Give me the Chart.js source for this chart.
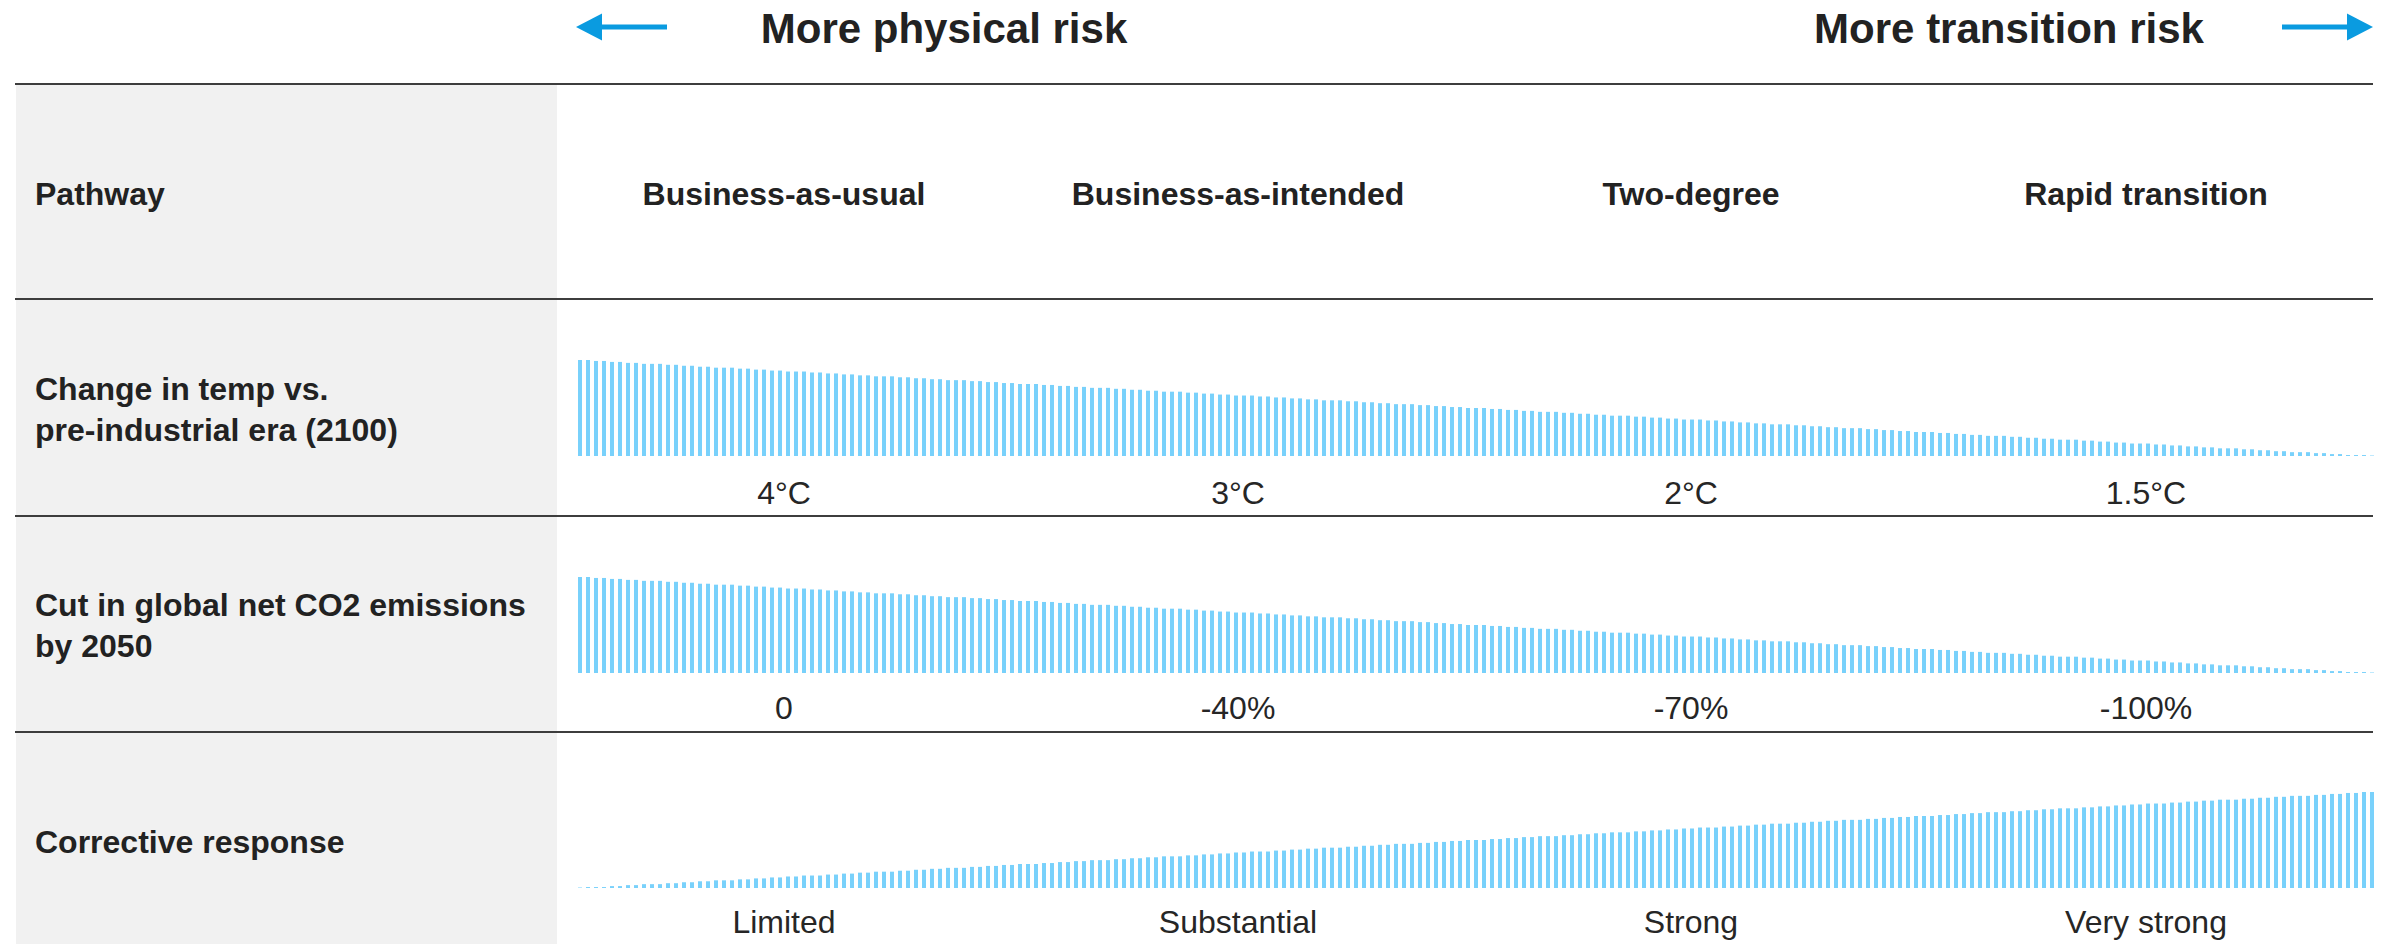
<!DOCTYPE html>
<html lang="en">
<head>
    <meta charset="UTF-8">
    <title>Climate pathways</title>
    <script src="https://cdn.jsdelivr.net/npm/chart.js"></script>
    <style>
        html, body { margin: 0; padding: 0; background: #fff; }
        body { width: 2395px; height: 944px; position: relative; overflow: hidden;
               font-family: "Liberation Sans", Arial, sans-serif; color: #222; }
        .abs { position: absolute; white-space: nowrap; }
        .mid { transform: translate(-50%, -50%); }
        .left { transform: translateY(-50%); }
        .big { font-size: 42px; font-weight: bold; line-height: 42px; }
        .head { font-size: 32px; font-weight: bold; line-height: 41px; }
        .val { font-size: 32px; line-height: 32px; color: #262626; }
        .rule { position: absolute; left: 15px; width: 2358px; height: 2px; background: #3d3d3d; }
        #panel { position: absolute; left: 16px; top: 85px; width: 541px; height: 859px; background: #f1f1f1; }
        canvas.row { position: absolute; left: 576px; }
    </style>
</head>
<body>
    <div id="panel"></div>

    <svg class="abs" style="left:0;top:0" width="2395" height="60">
        <rect x="600" y="24.5" width="67" height="5" fill="#0a9be0"></rect>
        <polygon points="576,27 602,13.5 602,40.5" fill="#0a9be0"></polygon>
        <rect x="2282" y="24.5" width="67" height="5" fill="#0a9be0"></rect>
        <polygon points="2373,27 2347,13.5 2347,40.5" fill="#0a9be0"></polygon>
    </svg>
    <div class="abs mid big" style="left:944px;top:29px">More physical risk</div>
    <div class="abs mid big" style="left:2009px;top:29px">More transition risk</div>

    <div class="rule" style="top:83px"></div>
    <div class="rule" style="top:298px"></div>
    <div class="rule" style="top:515px"></div>
    <div class="rule" style="top:731px"></div>

    <div id="labels"></div>

    <canvas id="tempChart" class="row" width="1800" height="96" style="top:360px"></canvas>
    <canvas id="co2Chart" class="row" width="1800" height="96" style="top:577px"></canvas>
    <canvas id="responseChart" class="row" width="1800" height="96" style="top:792px"></canvas>

    <script>
        const rowTitles = ["Pathway", "Change in temp vs.\npre-industrial era (2100)", "Cut in global net CO2 emissions\nby 2050", "Corrective response"];
        const pathways = ["Business-as-usual", "Business-as-intended", "Two-degree", "Rapid transition"];
        const tempLabels = ["4°C", "3°C", "2°C", "1.5°C"];
        const co2Labels = ["0", "-40%", "-70%", "-100%"];
        const responseLabels = ["Limited", "Substantial", "Strong", "Very strong"];

        // bar heights (0-100), one thin bar per step across the band
        const tempBars = [
            100,100,99,99,98,98,97,97,96,96,
            96,95,95,94,94,93,93,92,92,92,
            91,91,90,90,89,89,88,88,88,87,
            87,86,86,85,85,84,84,83,83,83,
            82,82,81,81,80,80,79,79,79,78,
            78,77,77,76,76,75,75,75,74,74,
            73,73,72,72,71,71,71,70,70,69,
            69,68,68,67,67,67,66,66,65,65,
            64,64,63,63,63,62,62,61,61,60,
            60,59,59,58,58,58,57,57,56,56,
            55,55,54,54,54,53,53,52,52,51,
            51,50,50,50,49,49,48,48,47,47,
            46,46,46,45,45,44,44,43,43,42,
            42,42,41,41,40,40,39,39,38,38,
            38,37,37,36,36,35,35,34,34,33,
            33,33,32,32,31,31,30,30,29,29,
            29,28,28,27,27,26,26,25,25,25,
            24,24,23,23,22,22,21,21,21,20,
            20,19,19,18,18,17,17,17,16,16,
            15,15,14,14,13,13,13,12,12,11,
            11,10,10,9,9,8,8,8,7,7,
            6,6,5,5,4,4,4,3,3,2,
            2,1,1,1,0.5
        ];
        const co2Bars = [
            100,100,99,99,98,98,97,97,96,96,
            96,95,95,94,94,93,93,92,92,92,
            91,91,90,90,89,89,88,88,88,87,
            87,86,86,85,85,84,84,83,83,83,
            82,82,81,81,80,80,79,79,79,78,
            78,77,77,76,76,75,75,75,74,74,
            73,73,72,72,71,71,71,70,70,69,
            69,68,68,67,67,67,66,66,65,65,
            64,64,63,63,63,62,62,61,61,60,
            60,59,59,58,58,58,57,57,56,56,
            55,55,54,54,54,53,53,52,52,51,
            51,50,50,50,49,49,48,48,47,47,
            46,46,46,45,45,44,44,43,43,42,
            42,42,41,41,40,40,39,39,38,38,
            38,37,37,36,36,35,35,34,34,33,
            33,33,32,32,31,31,30,30,29,29,
            29,28,28,27,27,26,26,25,25,25,
            24,24,23,23,22,22,21,21,21,20,
            20,19,19,18,18,17,17,17,16,16,
            15,15,14,14,13,13,13,12,12,11,
            11,10,10,9,9,8,8,8,7,7,
            6,6,5,5,4,4,4,3,3,2,
            2,1,1,1,0.5
        ];
        const responseBars = [
            0.5,1,1,1,2,
            2,3,3,4,4,4,5,5,6,6,
            7,7,8,8,8,9,9,10,10,11,
            11,12,12,13,13,13,14,14,15,15,
            16,16,17,17,17,18,18,19,19,20,
            20,21,21,21,22,22,23,23,24,24,
            25,25,25,26,26,27,27,28,28,29,
            29,29,30,30,31,31,32,32,33,33,
            33,34,34,35,35,36,36,37,37,38,
            38,38,39,39,40,40,41,41,42,42,
            42,43,43,44,44,45,45,46,46,46,
            47,47,48,48,49,49,50,50,50,51,
            51,52,52,53,53,54,54,54,55,55,
            56,56,57,57,58,58,58,59,59,60,
            60,61,61,62,62,63,63,63,64,64,
            65,65,66,66,67,67,67,68,68,69,
            69,70,70,71,71,71,72,72,73,73,
            74,74,75,75,75,76,76,77,77,78,
            78,79,79,79,80,80,81,81,82,82,
            83,83,83,84,84,85,85,86,86,87,
            87,88,88,88,89,89,90,90,91,91,
            92,92,92,93,93,94,94,95,95,96,
            96,96,97,97,98,98,99,99,100,100
        ];

        const barColor = "#79d1fb";
        const colX = [784, 1238, 1691, 2146];

        // text layer
        const holder = document.getElementById("labels");
        function addText(txt, x, y, cls) {
            let d = document.createElement("div");
            d.className = "abs " + cls;
            d.style.left = x + "px";
            d.style.top = y + "px";
            d.innerHTML = txt.replace("\n", "<br>");
            holder.appendChild(d);
        }

        const titleY = [194, 410, 626, 842];
        rowTitles.forEach((t, i) => addText(t, 35, titleY[i], "left head"));
        pathways.forEach((t, i) => addText(t, colX[i], 194, "mid head"));
        tempLabels.forEach((t, i) => addText(t, colX[i], 493, "mid val"));
        co2Labels.forEach((t, i) => addText(t, colX[i], 708, "mid val"));
        responseLabels.forEach((t, i) => addText(t, colX[i], 922, "mid val"));

        function drawRow(id, values) {
            new Chart(document.getElementById(id), {
                type: "bar",
                data: {
                    labels: values.map((v, i) => i),
                    datasets: [{
                        data: values,
                        backgroundColor: barColor,
                        borderWidth: 0,
                        barPercentage: 0.5,
                        categoryPercentage: 1
                    }]
                },
                options: {
                    responsive: false,
                    animation: false,
                    events: [],
                    layout: { padding: 0 },
                    plugins: { legend: { display: false }, tooltip: { enabled: false } },
                    scales: {
                        x: { display: false },
                        y: { display: false, min: 0, max: 100 }
                    }
                }
            });
        }

        drawRow("tempChart", tempBars);
        drawRow("co2Chart", co2Bars);
        drawRow("responseChart", responseBars);
    </script>
</body>
</html>
